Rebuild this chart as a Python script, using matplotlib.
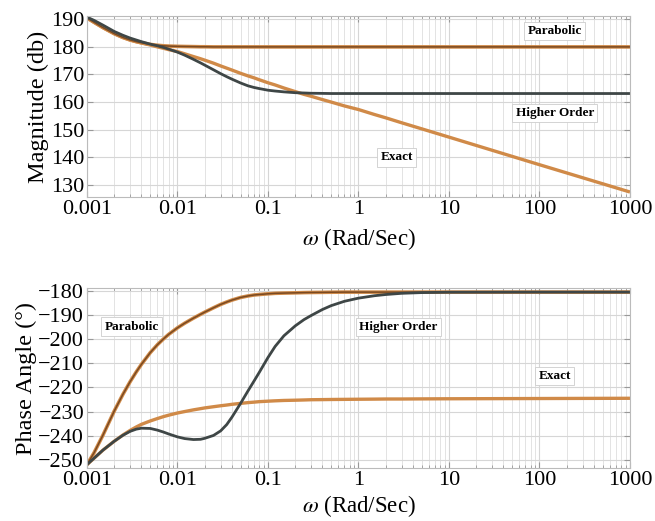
import matplotlib
matplotlib.use("Agg")
import matplotlib.pyplot as plt
from matplotlib.ticker import LogLocator, FixedLocator, NullFormatter

plt.rcParams["mathtext.fontset"] = "stix"

# ---- data ----
w = [0.001, 0.0012, 0.0015, 0.002, 0.0025, 0.003, 0.0035, 0.004, 0.005, 0.006, 0.007, 0.008,
     0.01, 0.012, 0.015, 0.018, 0.02, 0.025, 0.03, 0.035, 0.04, 0.05, 0.06, 0.07, 0.08,
     0.1, 0.12, 0.15, 0.2, 0.25, 0.3, 0.4, 0.5, 0.7, 1, 1.5, 2, 3, 5, 10, 100, 1000]

mag_parabolic = [190.5, 188.9, 187.0, 184.8, 183.4, 182.5, 181.9, 181.5, 180.9, 180.6, 180.4, 180.3,
                 180.2, 180.15, 180.1, 180.05, 180.05, 180.0, 180.0, 180.0, 180.0, 180.0, 180.0, 180.0, 180.0,
                 180.0, 180.0, 180.0, 180.0, 180.0, 180.0, 180.0, 180.0, 180.0, 180.0, 180.0, 180.0, 180.0,
                 180.0, 180.0, 180.0, 180.0]
mag_exact = [190.5, 188.9, 187.0, 184.8, 183.4, 182.5, 181.9, 181.4, 180.7, 180.0, 179.5, 179.0,
             178.3, 177.5, 176.5, 175.7, 175.2, 174.1, 173.1, 172.3, 171.6, 170.4, 169.5, 168.8, 168.1,
             167.0, 166.2, 165.1, 163.8, 162.8, 162.1, 160.9, 160.0, 158.6, 157.3, 155.5, 154.3, 152.5,
             150.3, 147.3, 137.3, 127.4]
mag_higher = [190.8, 189.6, 187.9, 185.6, 184.2, 183.2, 182.5, 181.9, 181.0, 180.4, 179.8, 179.2,
              178.1, 177.0, 175.5, 174.2, 173.4, 171.7, 170.3, 169.2, 168.3, 166.9, 165.9, 165.3, 164.9,
              164.3, 164.0, 163.7, 163.4, 163.3, 163.2, 163.15, 163.1, 163.1, 163.1, 163.1, 163.1, 163.1,
              163.1, 163.1, 163.1, 163.1]

ph_parabolic = [-252.0, -247.0, -239.8, -229.8, -222.8, -217.6, -213.6, -210.4, -205.6, -202.3, -199.9, -198.0,
                -195.3, -193.4, -191.3, -189.7, -188.8, -187.0, -185.6, -184.6, -183.8, -182.7, -182.1, -181.7,
                -181.5, -181.2, -181.0, -180.9, -180.8, -180.7, -180.65, -180.6, -180.55, -180.5, -180.5,
                -180.5, -180.5, -180.5, -180.5, -180.5, -180.5, -180.5]
ph_exact = [-252.0, -249.3, -246.0, -242.3, -239.7, -237.8, -236.4, -235.3, -233.9, -232.9, -232.1, -231.5,
            -230.6, -230.0, -229.3, -228.8, -228.5, -228.0, -227.6, -227.3, -227.0, -226.6, -226.3, -226.1,
            -225.9, -225.7, -225.55, -225.4, -225.3, -225.2, -225.1, -225.05, -225.0, -224.95, -224.9,
            -224.85, -224.8, -224.8, -224.75, -224.7, -224.6, -224.5]
ph_higher = [-252.0, -249.3, -246.0, -242.3, -239.8, -238.2, -237.3, -236.9, -237.0, -237.7, -238.5, -239.3,
             -240.5, -241.2, -241.6, -241.5, -241.1, -239.9, -238.0, -235.4, -232.3, -226.5, -221.5, -217.4,
             -213.8, -207.6, -203.0, -198.6, -194.5, -191.9, -190.2, -187.7, -186.1, -184.3, -183.0,
             -182.0, -181.5, -181.0, -180.7, -180.55, -180.5, -180.5]

xticks = [0.001, 0.01, 0.1, 1, 10, 100, 1000]
xtick_labels = ["0.001", "0.01", "0.1", "1", "10", "100", "1000"]
mag_ticks = [130, 140, 150, 160, 170, 180, 190]
ph_ticks = [-250, -240, -230, -220, -210, -200, -190, -180]

ORANGE = "#d08a48"
BROWN = "#7a4a22"
DARK = "#3e4646"
SERIF = "Liberation Serif"

fig = plt.figure(figsize=(6.55, 5.21), dpi=100)
ax1 = fig.add_axes([0.1328, 0.6219, 0.829, 0.3474])
ax2 = fig.add_axes([0.1328, 0.1017, 0.829, 0.3455])


def style(ax, yticks, ylabels, ylabel, xpad):
    ax.set_xscale("log")
    ax.set_xlim(0.001, 1000)
    ax.xaxis.set_major_locator(FixedLocator(xticks))
    ax.set_xticklabels(xtick_labels, fontfamily=SERIF, fontsize=16)
    ax.xaxis.set_minor_locator(LogLocator(base=10, subs=range(2, 10), numticks=20))
    ax.xaxis.set_minor_formatter(NullFormatter())
    ax.set_yticks(yticks)
    ax.set_yticklabels(ylabels, fontfamily=SERIF, fontsize=16)
    ax.grid(True, which="major", color="#d6d6d6", lw=0.8)
    ax.grid(True, which="minor", axis="x", color="#dedede", lw=0.6)
    ax.tick_params(which="both", direction="in", top=True, right=True, color="#999999",
                   pad=2)
    ax.tick_params(which="major", length=4)
    ax.tick_params(which="minor", length=2)
    for s in ax.spines.values():
        s.set_color("#bbbbbb")
        s.set_linewidth(0.8)
    ax.set_ylabel(ylabel, fontfamily=SERIF, fontsize=17.5, labelpad=1)
    ax.set_xlabel(r"$\omega$ (Rad/Sec)", fontfamily=SERIF, fontsize=16.5, labelpad=xpad)
    ax.set_axisbelow(True)


def label(ax, x, y, text):
    ax.text(x, y, text, ha="center", va="center", fontfamily=SERIF, fontsize=9.5,
            fontweight="bold",
            bbox=dict(boxstyle="square,pad=0.25", fc="white", ec="#cccccc", lw=0.6))


# magnitude
ax1.plot(w, mag_exact, color=ORANGE, lw=2.4, solid_capstyle="butt")
ax1.plot(w, mag_parabolic, color=ORANGE, lw=2.6, solid_capstyle="butt")
ax1.plot(w, mag_parabolic, color=BROWN, lw=1.1, solid_capstyle="butt")
ax1.plot(w, mag_higher, color=DARK, lw=2.0, solid_capstyle="butt")
ax1.set_ylim(125.6, 191.2)
style(ax1, mag_ticks, [str(t) for t in mag_ticks], "Magnitude (db)", 5)
label(ax1, 148, 185.8, "Parabolic")
label(ax1, 148, 156.0, "Higher Order")
label(ax1, 2.66, 140.0, "Exact")

# phase
ax2.plot(w, ph_exact, color=ORANGE, lw=2.4, solid_capstyle="butt")
ax2.plot(w, ph_parabolic, color=ORANGE, lw=2.6, solid_capstyle="butt")
ax2.plot(w, ph_parabolic, color=BROWN, lw=1.1, solid_capstyle="butt")
ax2.plot(w, ph_higher, color=DARK, lw=2.0, solid_capstyle="butt")
ax2.set_ylim(-253.4, -178.8)
style(ax2, ph_ticks, ["\u2212" + str(-t) for t in ph_ticks], "Phase Angle (\u00b0)", 2)
label(ax2, 0.00312, -194.8, "Parabolic")
label(ax2, 2.75, -195.0, "Higher Order")
label(ax2, 148, -215.3, "Exact")

fig.savefig("out.png", dpi=100)
